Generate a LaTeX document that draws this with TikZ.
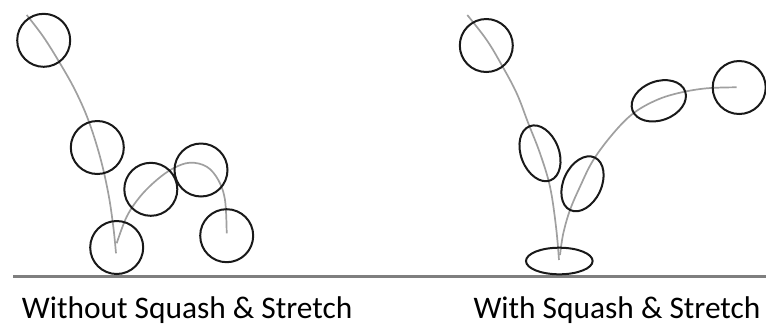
\documentclass[tikz,border=0pt]{standalone}
\usepackage{fontspec}
\setmainfont{Carlito}
\definecolor{pathgray}{HTML}{A0A0A0}
\definecolor{groundgray}{HTML}{7F7F7F}
\tikzset{
  ball/.style={draw=black!90, line width=2pt},
  trail/.style={draw=pathgray, line width=1.7pt, smooth, tension=0.6},
  ground/.style={draw=groundgray, line width=2.6pt},
  caption/.style={font=\fontsize{31.4}{36}\selectfont, text=black, inner sep=0pt}
}
\begin{document}
\begin{tikzpicture}[x=1pt, y=-1pt]
\useasboundingbox (0,0) rectangle (766,325);
% ground
\coordinate (gl) at (13,276.7);
\coordinate (gr) at (766,276.7);
\draw[ground] (gl) -- (gr);
% ---- left: without squash & stretch
\draw[trail] plot coordinates {(26.7,15) (43.3,36.7) (60,63.3) (75,90) (88.3,120) (100,156.7) (108.3,193.3) (113.3,226.7) (116,253.3)};
\draw[trail] plot coordinates {(116.7,243.3) (126.7,216.7) (140,196.7) (156.7,180) (173.3,168.3) (190,162.7) (206.7,166.7) (218.3,180) (225,200) (226.7,233.3)};
\draw[ball] (43.7,40.3) circle [radius=26.5pt];
\draw[ball] (97.3,147.5) circle [radius=26.5pt];
\draw[ball] (116.7,247.5) circle [radius=26.5pt];
\draw[ball] (150.8,189.3) circle [radius=26.5pt];
\draw[ball] (201,170) circle [radius=26.5pt];
\draw[ball] (226.7,235.7) circle [radius=26.5pt];
% ---- right: with squash & stretch
\draw[trail] plot coordinates {(467.3,15) (486.7,40) (501.7,65) (516.7,93.3) (528.3,123.3) (540,153.3) (550,186.7) (556,226.7) (559,260)};
\draw[trail] plot coordinates {(560,255) (563.3,233.3) (570,210) (580,186.7) (593.3,160) (613.3,133.3) (633.3,113.3) (656.7,100) (680,92.7) (706.7,88.3) (736.7,87.3)};
\draw[ball] (486.3,45.5) circle [radius=26.5pt];
\draw[ball, shift={(540,153.3)}, rotate=-69] (0,0) ellipse [x radius=29pt, y radius=19pt];
\draw[ball, shift={(582.5,183.8)}, rotate=65] (0,0) ellipse [x radius=29pt, y radius=19pt];
\draw[ball, shift={(658.8,100.8)}, rotate=20] (0,0) ellipse [x radius=28pt, y radius=19.5pt];
\draw[ball] (739.2,87.5) circle [radius=26.5pt];
\draw[ball] (559.3,261) ellipse [x radius=33.3pt, y radius=13.3pt];
% captions
\node[caption, anchor=base west] (capL) at (21.7,318.3) {Without Squash \& Stretch};
\node[caption, anchor=base west] (capR) at (473.3,318.3) {With Squash \& Stretch};
\end{tikzpicture}
\end{document}
